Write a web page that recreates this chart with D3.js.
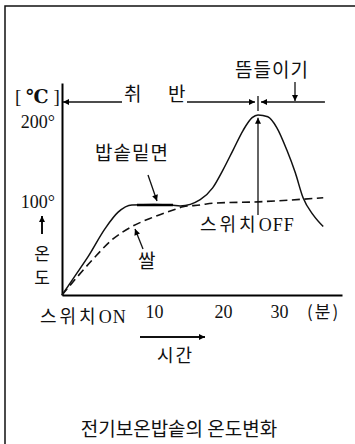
<!DOCTYPE html>
<html><head><meta charset="utf-8">
<script src="https://cdn.jsdelivr.net/npm/d3@7"></script>
<style>body{margin:0;background:#fff}svg{display:block}</style>
</head><body><svg id="c" width="355" height="444"></svg>
<script>
// ---- data ----
const timeTicks = [10, 20, 30];               // minutes
const tempTicks = [100, 200];                 // degrees C
const potTime = [0, 1.4, 2.8, 4.7, 6.1, 7.6, 10, 12.5, 13.8, 16.7, 18.5, 20, 21.8, 23.6, 25.2, 26.25, 28.0, 29.6, 31.4, 32.9, 34.3, 36.1, 37.9];
const potTemp = [0, 21, 42, 74, 92, 100, 100.5, 100, 99, 106, 119, 139, 161, 183, 197, 200, 198, 186, 161, 136, 108, 89, 76];
const riceTime = [0, 3.3, 5.4, 7.6, 9.8, 13.0, 14.2, 16.7, 18.5, 26.25, 37.9];
const riceTemp = [0, 39, 61, 76, 86, 95, 98, 100, 102, 103.5, 108];
const switchOffTime = 26.25;
const steamEndTime = 38.2;
const flatMarkTime = [8.15, 12.75];
const title = "전기보온밥솥의 온도변화";

// ---- layout ----
const svg = d3.select("#c");
const x = d3.scaleLinear().domain([0, 10, 20, 30, 41.25]).range([62, 154, 223, 279, 342]);
const y = d3.scaleLinear().domain([0, 235.5]).range([295, 83]);
const KR = "'Noto Sans CJK KR', sans-serif";
const SERIF = "'Liberation Serif', 'DejaVu Serif', serif";

const defs = svg.append("defs");
defs.append("marker").attr("id", "ah").attr("viewBox", "0 0 10 10")
  .attr("refX", 10).attr("refY", 5).attr("markerWidth", 9).attr("markerHeight", 6)
  .attr("markerUnits", "userSpaceOnUse").attr("orient", "auto")
  .append("path").attr("d", "M0,0L10,5L0,10z").attr("fill", "#000");

// frame
svg.append("path").attr("d", "M5,444V6H355").attr("fill", "none").attr("stroke", "#111").attr("stroke-width", 1.5);

// axes
const gx = svg.append("g").attr("transform", "translate(0,295)")
  .call(d3.axisBottom(x).tickValues(timeTicks).tickSize(0).tickSizeOuter(0));
gx.select(".domain").attr("stroke", "#000").attr("stroke-width", 2);
gx.selectAll("text").attr("y", 23).attr("dy", null)
  .style("font-family", SERIF).style("font-size", "18px").attr("fill", "#111");

const gy = svg.append("g").attr("transform", "translate(62,0)")
  .call(d3.axisLeft(y).tickValues(tempTicks).tickSize(0).tickSizeOuter(0).tickFormat(d => d + "°"));
gy.select(".domain").attr("stroke", "#000").attr("stroke-width", 2);
const yOff = {100: 3, 200: 13};
gy.selectAll("text").attr("x", -7).attr("dy", null).attr("y", d => yOff[d])
  .style("font-family", SERIF).style("font-size", "18px").attr("fill", "#111");

// curves
const line = d3.line().x(d => x(d[0])).y(d => y(d[1])).curve(d3.curveMonotoneX);
svg.append("path").datum(d3.zip(riceTime, riceTemp)).attr("d", line)
  .attr("fill", "none").attr("stroke", "#111").attr("stroke-width", 1.6).attr("stroke-dasharray", "8,4.5");
svg.append("path").datum(d3.zip(potTime, potTemp)).attr("d", line)
  .attr("fill", "none").attr("stroke", "#111").attr("stroke-width", 1.5);
svg.append("line").attr("x1", x(flatMarkTime[0])).attr("x2", x(flatMarkTime[1]))
  .attr("y1", y(100)).attr("y2", y(100)).attr("stroke", "#000").attr("stroke-width", 2.6);

// arrows
function arrow(x1, y1, x2, y2, w) {
  svg.append("line").attr("x1", x1).attr("y1", y1).attr("x2", x2).attr("y2", y2)
    .attr("stroke", "#111").attr("stroke-width", w || 1.3).attr("marker-end", "url(#ah)");
}
const xs = x(switchOffTime), yTop = 102;
arrow(122, yTop, x(0) + 1, yTop);
arrow(187, yTop, xs - 3, yTop);
arrow(x(steamEndTime), yTop, xs + 3, yTop);
svg.append("line").attr("x1", xs).attr("x2", xs).attr("y1", 96).attr("y2", 111).attr("stroke", "#111").attr("stroke-width", 1.3);
arrow(xs, y(89), xs, y(198) + 1);
arrow(295, 82, 295, 101);
arrow(148, 175, 157, 201);
arrow(143, 249, 135, 229);
arrow(140, 337, 205, 337, 2);
arrow(42, 234, 42, 216, 2);

// texts
function txt(s, xx, yy, size, fam, anchor, ls) {
  return svg.append("text").attr("x", xx).attr("y", yy).text(s)
    .style("font-family", fam).style("font-size", size + "px").attr("fill", "#111")
    .style("letter-spacing", (ls || 0) + "px")
    .attr("text-anchor", anchor || "start");
}
const c = svg.append("text").attr("x", 15).attr("y", 103).style("font-family", SERIF).style("font-size", "19px").attr("fill", "#111");
c.append("tspan").text("[ ");
c.append("tspan").text("℃").style("font-weight", "bold");
c.append("tspan").text(" ]");
txt("취", 124, 101, 19, KR);
txt("반", 168, 101, 19, KR);
txt("뜸들이기", 235, 77, 19, KR, "start", 1);
txt("밥솥밑면", 95, 160, 19, KR, "start", 1);
txt("쌀", 138, 268, 19, KR);
txt("온", 42, 260, 17, KR, "middle");
txt("도", 42, 284, 17, KR, "middle");
const sOff = svg.append("text").attr("x", 200).attr("y", 231).style("font-size", "18px").attr("fill", "#111");
sOff.append("tspan").text("스위치").style("font-family", KR).style("letter-spacing", "3px");
sOff.append("tspan").text("OFF").style("font-family", SERIF).style("letter-spacing", "1px");
const sOn = svg.append("text").attr("x", 40).attr("y", 323).style("font-size", "18px").attr("fill", "#111");
sOn.append("tspan").text("스위치").style("font-family", KR).style("letter-spacing", "3px");
sOn.append("tspan").text("ON").style("font-family", SERIF).style("letter-spacing", "1px");
txt("(분)", 307, 318, 17, KR, "start", 2);
txt("시간", 157, 362, 18, KR, "start", 2);
txt(title, 179, 436, 19, KR, "middle");
</script>
</body></html>
